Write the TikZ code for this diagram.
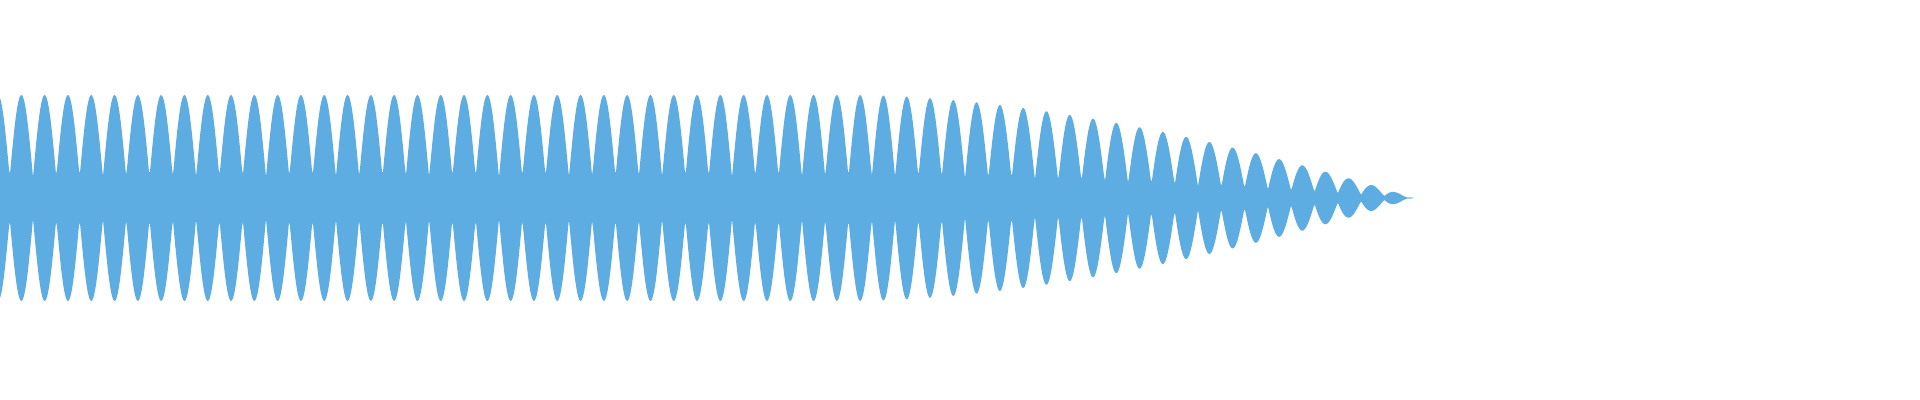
\documentclass[tikz,border=0pt]{standalone}
\definecolor{wave}{RGB}{93,172,226}
\begin{document}
\begin{tikzpicture}[x=0.01cm,y=0.01cm,
  declare function={tt(\x)=max((\x-860)/554,0.0001);
    amp(\x)=103*(1-pow(tt(\x),1.7))*(0.2+0.8*abs(sin(((\x-33)/23.3)*180)));}]
\useasboundingbox (0,0) rectangle (1920,400);
\fill[wave] plot[domain=0:1414,samples=1415] (\x,{202+amp(\x)})
  -- plot[domain=1414:0,samples=1415] (\x,{202-amp(\x)}) -- cycle;
\end{tikzpicture}
\end{document}
